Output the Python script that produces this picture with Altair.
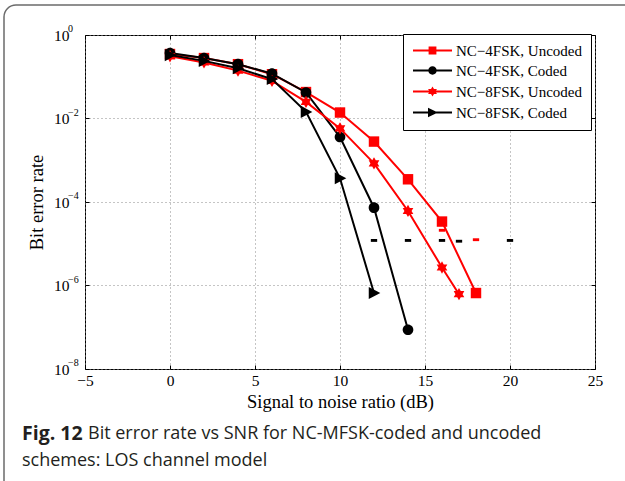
import altair as alt
import pandas as pd

# ---------------- data ----------------
series_names = ["NC−4FSK, Uncoded", "NC−4FSK, Coded", "NC−8FSK, Uncoded", "NC−8FSK, Coded"]
series_colors = ["#ff0000", "#000000", "#ff0000", "#000000"]

snr_4u = [0, 2, 4, 6, 8, 10, 12, 14, 16, 18]
ber_4u = [0.35, 0.28, 0.2, 0.115, 0.043, 0.0139, 0.0028, 3.5e-4, 3.4e-5, 6.6e-7]
snr_4c = [0, 2, 4, 6, 8, 10, 12, 14]
ber_4c = [0.37, 0.28, 0.2, 0.119, 0.042, 0.0036, 7.3e-5, 8.7e-8]
snr_8u = [0, 2, 4, 6, 8, 10, 12, 14, 16, 17]
ber_8u = [0.31, 0.22, 0.14, 0.08, 0.025, 0.0058, 8.4e-4, 6.1e-5, 2.7e-6, 6.2e-7]
snr_8c = [0, 2, 4, 6, 8, 10, 12]
ber_8c = [0.33, 0.24, 0.16, 0.088, 0.0144, 3.7e-4, 6.6e-7]

floor_snr_black = [12, 14, 16, 17, 20]
floor_ber_black = [1.2e-5, 1.2e-5, 1.2e-5, 1.15e-5, 1.2e-5]
floor_snr_red = [16, 18]
floor_ber_red = [2.1e-5, 1.25e-5]

xtick_vals = [-5, 0, 5, 10, 15, 20, 25]
ytick_vals = [1, 1e-2, 1e-4, 1e-6, 1e-8]
ytick_exps = ["0", "−2", "−4", "−6", "−8"]

caption_bold = ["Fig. 12"]
caption_line1 = ["Bit error rate vs SNR for NC-MFSK-coded and uncoded"]
caption_line2 = ["schemes: LOS channel model"]

# ---------------- styles ----------------
W, H = 510, 334
SERIF = "Liberation Serif"
SANS = "Open Sans"

marker_paths = [
    "M-0.95,-0.95H0.95V0.95H-0.95Z",
    "M0.97,0A0.97,0.97,0,1,1,-0.97,0A0.97,0.97,0,1,1,0.97,0Z",
    "M0,-1.12L0.323,-0.56L0.97,-0.56L0.647,0L0.97,0.56L0.323,0.56L0,1.12L-0.323,0.56L-0.97,0.56L-0.647,0L-0.97,-0.56L-0.323,-0.56Z",
    "M1.15,0L-0.95,1.1L-0.95,-1.1Z",
]
LINE = "M-3.25,-0.17H3.25V0.17H-3.25Z "
legend_paths = [
    LINE + "M-0.65,-0.65H0.65V0.65H-0.65Z",
    LINE + "M0.7,0A0.7,0.7,0,1,1,-0.7,0A0.7,0.7,0,1,1,0.7,0Z",
    LINE + "M0,-0.85L0.245,-0.425L0.736,-0.425L0.491,0L0.736,0.425L0.245,0.425L0,0.85L-0.245,0.425L-0.736,0.425L-0.491,0L-0.736,-0.425L-0.245,-0.425Z",
    LINE + "M0.9,0L-0.75,0.8L-0.75,-0.8Z",
]

rows = []
for name, xs, ys in zip(series_names, [snr_4u, snr_4c, snr_8u, snr_8c], [ber_4u, ber_4c, ber_8u, ber_8c]):
    for a, b in zip(xs, ys):
        rows.append({"series": name, "snr": a, "ber": b})
df = pd.DataFrame(rows)

x_scale = alt.Scale(domain=[-5, 25], nice=False, zero=False)
y_scale = alt.Scale(type="log", domain=[1e-8, 1], nice=False)

x_axis_main = alt.Axis(values=xtick_vals, format="d", title="Signal to noise ratio (dB)",
                       labelFont=SERIF, labelFontSize=15.5, labelColor="black", labelPadding=4,
                       titleFont=SERIF, titleFontSize=18.5, titleFontWeight="normal", titleColor="black",
                       titlePadding=4, ticks=False, domain=False, grid=True,
                       gridColor="#8a8a8a", gridDash=[1, 3], gridWidth=1, labelFlush=False)
y_axis_main = alt.Axis(values=ytick_vals, labelExpr="'10'", title="Bit error rate",
                       labelFont=SERIF, labelFontSize=15.5, labelColor="black", labelPadding=16,
                       titleFont=SERIF, titleFontSize=18.5, titleFontWeight="normal", titleColor="black",
                       titlePadding=7, ticks=False, domain=False, grid=True,
                       gridColor="#8a8a8a", gridDash=[1, 3], gridWidth=1)


def tick_axis(vals, orient, offset):
    return alt.Axis(values=vals, orient=orient, offset=offset, labels=False, domain=False,
                    grid=False, ticks=True, tickSize=4, tickColor="black", tickWidth=1, title=None)


layers = []

# card border
card = alt.Chart(pd.DataFrame({"k": [0]})).mark_rect(
    fillOpacity=0, stroke="#6b6b6b", strokeWidth=1.5, cornerRadius=12
).encode(x=alt.value(-81), x2=alt.value(700), y=alt.value(-30), y2=alt.value(600))
layers.append(card)

# series lines and markers (drawn in series order)
first = True
for name, color, mpath in zip(series_names, series_colors, marker_paths):
    sub = alt.Chart(df).transform_filter(alt.datum.series == name)
    if first:
        enc_x = alt.X("snr:Q", scale=x_scale, axis=x_axis_main)
        enc_y = alt.Y("ber:Q", scale=y_scale, axis=y_axis_main)
        first = False
    else:
        enc_x = alt.X("snr:Q", axis=None)
        enc_y = alt.Y("ber:Q", axis=None)
    layers.append(sub.mark_line(color=color, strokeWidth=2).encode(x=enc_x, y=enc_y))
    layers.append(sub.mark_point(shape=mpath, filled=True, size=121, color=color, opacity=1).encode(
        x=alt.X("snr:Q", axis=None), y=alt.Y("ber:Q", axis=None)))

# floor dashes
dash_path = "M-1,-0.45H1V0.45H-1Z"
fb = pd.DataFrame({"snr": floor_snr_black, "ber": floor_ber_black})
fr = pd.DataFrame({"snr": floor_snr_red, "ber": floor_ber_red})
layers.append(alt.Chart(fb).mark_point(shape=dash_path, filled=True, size=40, color="black", opacity=1).encode(
    x=alt.X("snr:Q", axis=tick_axis(xtick_vals, "bottom", -H)),
    y=alt.Y("ber:Q", axis=tick_axis(ytick_vals, "left", -W))))
layers.append(alt.Chart(fr).mark_point(shape=dash_path, filled=True, size=40, color="#ff0000", opacity=1).encode(
    x=alt.X("snr:Q", axis=None), y=alt.Y("ber:Q", axis=None)))

# legend layer (invisible marks, provides legend and inward ticks)
leg = alt.Legend(title=None, orient="none", legendX=318, legendY=-1, symbolSize=144,
                 symbolOpacity=1, labelFont=SERIF, labelFontSize=15, labelColor="black",
                 strokeColor="black", fillColor="white", padding=9, rowPadding=4,
                 symbolOffset=13, labelOffset=16, labelLimit=300, cornerRadius=0)
layers.append(alt.Chart(df).mark_point(filled=True, opacity=0, size=144).encode(
    x=alt.X("snr:Q", axis=tick_axis(xtick_vals, "top", -H)),
    y=alt.Y("ber:Q", axis=tick_axis(ytick_vals, "right", -W)),
    color=alt.Color("series:N", scale=alt.Scale(domain=series_names, range=series_colors), legend=leg),
    shape=alt.Shape("series:N", scale=alt.Scale(domain=series_names, range=legend_paths), legend=leg),
))

# y-axis exponents
exp_df = pd.DataFrame({"v": ytick_vals, "t": ytick_exps})
layers.append(alt.Chart(exp_df).mark_text(align="left", baseline="middle", font=SERIF, fontSize=10,
                                          dy=-6, color="black").encode(
    y=alt.Y("v:Q", axis=None), x=alt.value(-17), text="t:N"))

# caption
layers.append(alt.Chart(pd.DataFrame({"t": caption_bold})).mark_text(
    align="left", baseline="middle", font=SANS, fontSize=19.5, fontWeight="bold", color="#231f20").encode(
    x=alt.value(-63), y=alt.value(399), text="t:N"))
layers.append(alt.Chart(pd.DataFrame({"t": caption_line1})).mark_text(
    align="left", baseline="middle", font=SANS, fontSize=18, color="#231f20").encode(
    x=alt.value(3), y=alt.value(399), text="t:N"))
layers.append(alt.Chart(pd.DataFrame({"t": caption_line2})).mark_text(
    align="left", baseline="middle", font=SANS, fontSize=18, color="#231f20").encode(
    x=alt.value(-63), y=alt.value(426), text="t:N"))

chart = alt.layer(*layers).resolve_axis(x="independent", y="independent").properties(
    width=W, height=H,
    autosize=alt.AutoSizeParams(type="none"),
    padding={"left": 85, "top": 35, "right": 30, "bottom": 112},
    background="white",
).configure_view(stroke="black", strokeWidth=1)

chart.save("out.html", embed_options={"renderer": "svg", "actions": False})
